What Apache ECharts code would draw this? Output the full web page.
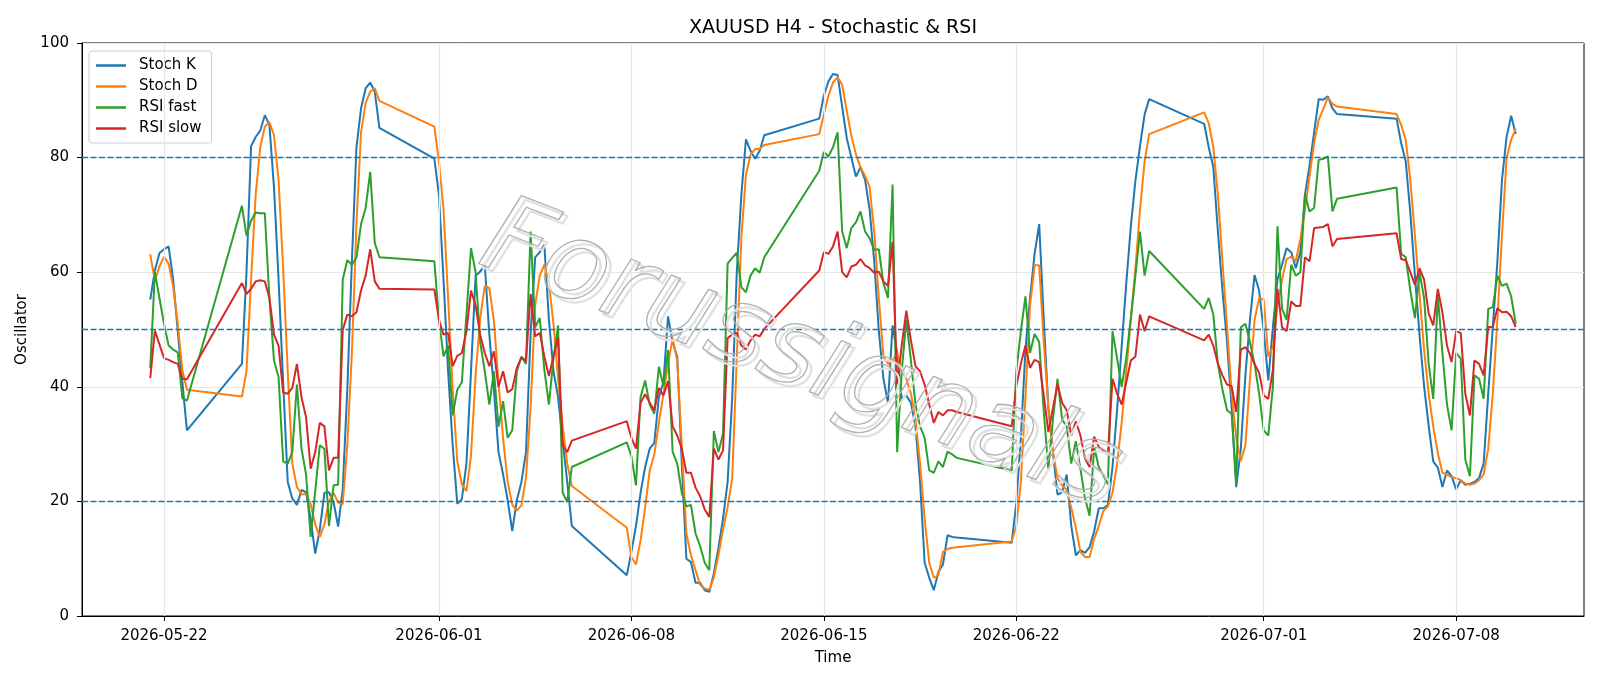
<!DOCTYPE html>
<html lang="en">
<head>
    <meta charset="UTF-8">
    <title>XAUUSD H4 - Stochastic & RSI</title>
    <script src="https://cdn.jsdelivr.net/npm/echarts@6/dist/echarts.min.js"></script>
    <style>
        html, body { margin: 0; padding: 0; background: #fff; }
        #main { width: 1600px; height: 686px; }
    </style>
</head>
<body>
<div id="main"></div>

<script type="text/javascript">
    // H4 bar sessions: [first bar, number of bars]
    var sessions = [
        ['2026-05-21 12:00', 9],
        ['2026-05-24 20:00', 31],
        ['2026-05-31 20:00', 31],
        ['2026-06-07 20:00', 31],
        ['2026-06-14 20:00', 31],
        ['2026-06-21 20:00', 31],
        ['2026-06-28 20:00', 30],
        ['2026-07-05 20:00', 27]
    ];

    var tickDates = ['2026-05-22', '2026-06-01', '2026-06-08', '2026-06-15', '2026-06-22', '2026-07-01', '2026-07-08'];
    var levels = [80, 50, 20];

    var stochK = [
        55.2, 60.3, 63.3, 64.0, 64.5, 58.7, 49.7, 40.8, 32.4,
        44.0, 60.0, 82.0, 83.6, 84.7, 87.4, 85.7, 74.8, 58.7, 40.8, 23.4, 20.5, 19.4, 22.0, 21.6, 17.0, 10.9, 15.1, 21.5, 21.6, 19.9, 15.6, 22.1, 39.5, 61.9, 81.8, 88.6, 92.1, 93.1, 91.5, 85.2,
        79.8, 73.5, 58.7, 42.7, 29.8, 19.6, 20.4, 26.6, 42.7, 59.4, 60.1, 61.3, 49.1, 39.5, 28.6, 24.7, 20.2, 14.8, 20.2, 23.4, 28.6, 49.1, 62.6, 63.5, 64.8, 51.7, 42.7, 38.2, 30.5, 23.4, 15.7,
        7.1, 11.2, 15.7, 21.5, 26.0, 29.2, 30.2, 38.2, 40.8, 52.3, 47.8, 45.3, 26.6, 10.0, 9.4, 5.8, 5.8, 4.5, 4.2, 7.4, 11.9, 17.0, 23.4, 38.0, 60.0, 73.5, 83.2, 81.2, 79.8, 81.2, 83.9,
        86.8, 90.8, 93.3, 94.6, 94.4, 88.9, 83.4, 80.0, 76.7, 78.3, 76.1, 70.9, 61.9, 49.7, 41.4, 37.2, 50.7, 45.9, 37.9, 38.5, 37.2, 33.1, 23.4, 9.3, 6.7, 4.5, 7.7, 9.0, 14.1, 13.8, 13.7,
        12.8, 19.6, 31.1, 46.5, 55.5, 63.2, 68.4, 51.7, 36.3, 28.6, 21.2, 21.6, 24.7, 15.7, 10.6, 11.5, 11.0, 12.0, 14.8, 18.8, 18.8, 19.4, 26.0, 36.0, 47.0, 58.0, 68.0, 76.0, 82.0, 87.5, 90.2,
        85.9, 81.8, 78.3, 67.1, 56.8, 47.8, 36.3, 22.5, 29.2, 42.0, 51.7, 59.5, 56.8, 49.7, 41.1, 50.4, 58.7, 61.3, 64.2, 63.5, 60.7, 63.5, 73.5, 78.6, 84.4, 90.2, 90.1, 90.7, 88.6, 87.6,
        86.8, 82.5, 79.3, 70.3, 59.4, 49.1, 40.1, 33.2, 27.0, 25.9, 22.5, 25.4, 24.4, 22.1, 23.7, 22.9, 23.1, 23.4, 24.1, 26.6, 38.8, 50.4, 61.9, 76.1, 83.6, 87.3, 84.1
    ];

    var stochD = [
        63.1, 58.5, 61.0, 62.7, 61.5, 57.5, 51.0, 43.0, 39.5,
        38.3, 42.7, 58.7, 73.5, 81.8, 85.4, 86.2, 83.9, 76.1, 60.7, 42.7, 26.6, 22.5, 21.2, 21.3, 19.5, 16.0, 13.8, 16.0, 20.0, 21.5, 19.8, 19.5, 29.8, 45.9, 68.4, 84.4, 89.5, 91.5, 92.1, 89.9,
        85.4, 79.3, 70.9, 55.5, 39.5, 27.0, 23.0, 21.8, 28.0, 42.0, 52.0, 57.6, 57.2, 51.5, 40.8, 31.0, 23.4, 19.4, 18.4, 19.3, 24.1, 36.3, 54.2, 59.4, 61.3, 58.1, 51.0, 41.4, 33.1, 26.6, 22.7,
        15.4, 10.3, 9.0, 13.2, 18.9, 25.4, 28.2, 33.7, 38.8, 44.0, 48.5, 44.6, 29.8, 14.4, 10.6, 8.0, 5.4, 4.8, 4.6, 6.7, 10.6, 15.1, 19.0, 24.0, 45.0, 66.0, 77.0, 80.5, 81.5, 81.5, 82.2,
        84.1, 87.5, 90.8, 93.1, 94.0, 92.7, 88.2, 83.8, 80.6, 78.3, 76.8, 74.8, 67.1, 55.5, 45.3, 44.0, 44.6, 45.9, 42.7, 41.4, 38.8, 34.3, 26.6, 17.0, 9.3, 6.7, 7.1, 11.2, 11.7, 11.9, 12.0,
        13.0, 15.7, 23.4, 38.2, 54.2, 61.2, 61.2, 47.8, 36.3, 28.6, 24.1, 22.8, 22.0, 18.9, 15.4, 11.2, 10.3, 10.3, 13.5, 15.7, 18.3, 19.1, 21.5, 26.6, 33.7, 42.7, 51.7, 60.7, 70.9, 79.3, 84.1,
        87.9, 86.0, 81.8, 73.5, 61.9, 50.4, 38.8, 31.1, 27.0, 29.8, 41.4, 51.7, 55.5, 55.2, 45.3, 46.9, 54.2, 58.7, 62.3, 62.7, 61.9, 65.8, 70.9, 76.7, 82.5, 86.6, 88.5, 90.5, 89.4, 88.9,
        87.6, 85.7, 83.1, 76.1, 66.4, 56.2, 46.5, 38.8, 33.1, 28.4, 25.0, 24.7, 24.2, 24.1, 23.7, 23.1, 22.9, 23.1, 23.7, 24.7, 29.2, 38.8, 51.7, 66.4, 79.9, 83.1, 85.0
    ];

    var rsiFast = [
        43.3, 60.0, 55.5, 51.0, 47.2, 46.5, 46.0, 38.0, 37.6,
        71.6, 66.4, 69.0, 70.4, 70.3, 70.3, 55.5, 44.6, 41.7, 27.0, 26.6, 28.6, 40.4, 29.2, 24.7, 13.8, 21.8, 29.8, 29.2, 15.7, 22.8, 22.9, 58.7, 62.1, 61.3, 62.6, 68.4, 71.2, 77.5, 65.1, 62.6,
        61.9, 51.7, 45.3, 47.2, 35.0, 39.5, 40.8, 52.6, 64.2, 60.0, 47.8, 42.7, 36.9, 42.7, 33.0, 37.5, 31.1, 32.4, 42.7, 45.3, 44.0, 67.1, 50.4, 52.0, 43.0, 36.9, 45.0, 50.7, 21.5, 19.9, 26.0,
        30.3, 27.9, 22.8, 38.2, 41.1, 36.9, 35.3, 43.5, 40.1, 46.4, 28.7, 26.6, 21.5, 19.1, 19.4, 14.4, 12.2, 9.3, 8.0, 32.3, 28.6, 31.8, 61.5, 62.5, 63.4, 57.4, 56.5, 59.4, 60.7, 59.9, 62.6,
        77.7, 81.0, 80.2, 81.8, 84.4, 67.1, 64.2, 67.7, 68.7, 70.6, 67.1, 65.9, 63.9, 64.0, 58.1, 55.5, 75.3, 28.6, 42.7, 51.7, 44.6, 36.9, 33.1, 31.1, 25.4, 25.0, 27.0, 26.0, 28.7, 28.2, 27.6,
        25.4, 42.7, 49.7, 55.8, 45.9, 49.2, 47.8, 35.6, 25.7, 34.3, 41.4, 34.3, 33.1, 26.6, 30.5, 25.7, 20.5, 17.5, 29.5, 26.0, 24.5, 23.0, 49.7, 45.0, 40.0, 45.0, 52.0, 59.4, 67.1, 59.4, 63.7,
        53.6, 55.5, 52.6, 44.0, 39.5, 35.9, 35.3, 23.1, 50.4, 51.0, 47.8, 44.0, 38.8, 32.4, 31.5, 40.0, 68.0, 53.6, 51.7, 61.3, 59.4, 60.0, 73.5, 70.6, 71.2, 79.6, 79.8, 80.2, 70.6, 72.8,
        74.8, 63.2, 62.6, 56.8, 52.0, 60.0, 55.5, 44.0, 37.9, 56.0, 45.9, 36.9, 32.4, 45.9, 44.9, 27.3, 24.4, 42.0, 41.4, 37.9, 53.6, 53.9, 59.4, 57.6, 58.0, 55.8, 51.0
    ];

    var rsiSlow = [
        41.5, 49.8, 47.4, 45.0, 44.7, 44.3, 44.0, 41.4, 41.3,
        58.1, 56.2, 57.1, 58.4, 58.6, 58.4, 55.5, 49.1, 47.2, 39.0, 38.8, 39.8, 44.0, 38.2, 34.7, 25.7, 28.6, 33.7, 33.1, 25.4, 27.6, 27.6, 49.9, 52.6, 52.3, 53.0, 56.8, 59.4, 64.0, 58.4, 57.1,
        57.0, 51.7, 49.1, 49.4, 43.6, 45.4, 45.9, 49.7, 56.8, 54.2, 49.1, 45.9, 43.6, 46.2, 40.0, 42.7, 39.0, 39.6, 43.3, 45.1, 44.6, 56.2, 48.8, 49.4, 45.3, 41.9, 45.3, 48.5, 29.8, 28.6, 30.6,
        34.0, 31.1, 29.2, 37.2, 38.7, 37.2, 35.9, 39.8, 38.5, 41.0, 33.1, 31.5, 29.2, 25.0, 25.0, 22.4, 20.9, 18.6, 17.3, 29.2, 27.3, 28.9, 48.5, 49.1, 49.4, 47.2, 46.5, 48.1, 49.1, 48.8, 50.1,
        60.3, 63.5, 63.2, 64.5, 67.1, 60.0, 59.1, 61.0, 61.3, 62.3, 61.2, 60.7, 59.9, 60.1, 58.4, 57.6, 65.3, 40.4, 47.2, 53.3, 48.1, 43.6, 42.7, 40.4, 36.9, 33.7, 35.6, 35.0, 35.9, 35.9, 35.6,
        33.1, 40.1, 44.0, 47.2, 43.3, 44.7, 44.3, 38.5, 32.1, 36.3, 40.4, 37.2, 35.9, 31.5, 34.0, 31.5, 27.5, 26.0, 31.3, 29.5, 28.9, 28.2, 41.4, 38.8, 36.9, 40.8, 44.6, 45.3, 52.6, 49.7, 52.3,
        48.1, 49.1, 47.2, 44.0, 42.0, 40.4, 40.1, 35.6, 46.5, 46.9, 45.9, 44.0, 42.4, 38.5, 37.9, 43.0, 57.1, 50.4, 49.7, 54.9, 54.1, 54.1, 62.6, 61.9, 67.7, 67.8, 67.9, 68.4, 64.5, 65.8,
        66.8, 62.3, 62.1, 60.0, 57.8, 60.7, 58.7, 52.8, 50.7, 57.1, 53.0, 47.2, 44.3, 49.7, 49.4, 38.8, 35.0, 44.6, 44.0, 42.0, 50.4, 50.5, 53.7, 53.0, 53.1, 52.3, 50.4
    ];

    // parse 'YYYY-MM-DD HH:MM' as UTC
    function ts(s) {
        var p = s.split(' ');
        var d = p[0].split('-').map(Number);
        var t = (p[1] || '00:00').split(':').map(Number);
        return Date.UTC(d[0], d[1] - 1, d[2], t[0], t[1]);
    }

    var H4 = 4 * 3600 * 1000;
    var times = [];
    sessions.forEach(function (s) {
        var t0 = ts(s[0]);
        for (var i = 0; i < s[1]; i++) times.push(t0 + i * H4);
    });

    function pairs(vals) {
        return vals.map(function (v, i) { return [times[i], v]; });
    }

    var tickTs = tickDates.map(ts);
    var span = times[times.length - 1] - times[0];
    var xMin = times[0] - 0.05 * span;
    var xMax = times[times.length - 1] + 0.05 * span;

    var FONT = 'DejaVu Sans';
    var myChart = echarts.init(document.getElementById('main'));

    var lineSeries = function (name, vals, color) {
        return {
            name: name, type: 'line', data: pairs(vals), showSymbol: false, symbol: 'none',
            lineStyle: { color: color, width: 2 }, itemStyle: { color: color }, z: 2
        };
    };

    // watermark text, drawn twice for the soft shadow
    var mark = function (dx, dy, color, width) {
        return {
            type: 'text', x: 800 + dx, y: 358 + dy, rotation: -0.37, z: 100, silent: true,
            style: {
                text: 'Forussignals', fontFamily: FONT, fontSize: 108, fontStyle: 'italic', fontWeight: 'lighter',
                fill: 'rgba(255,255,255,0)', stroke: color, lineWidth: width,
                align: 'center', verticalAlign: 'middle', textAlign: 'center', textVerticalAlign: 'middle'
            }
        };
    };

    var option = {
        animation: false,
        backgroundColor: '#fff',
        title: {
            text: 'XAUUSD H4 - Stochastic & RSI', left: 828, top: 14, textAlign: 'center',
            textStyle: { fontFamily: FONT, fontSize: 19, fontWeight: 'normal', color: '#000' }
        },
        legend: {
            data: ['Stoch K', 'Stoch D', 'RSI fast', 'RSI slow'],
            orient: 'vertical', left: 89, top: 51,
            padding: [6, 10, 6, 7], itemGap: 4, itemWidth: 30, itemHeight: 2.5, icon: 'rect',
            backgroundColor: 'rgba(255,255,255,0.8)', borderColor: '#cccccc', borderWidth: 1, borderRadius: 3,
            textStyle: { fontFamily: FONT, fontSize: 15, color: '#000', lineHeight: 17, padding: [0, 0, 0, 8] }
        },
        grid: { left: 82, right: 16, top: 43, bottom: 70, show: true, borderColor: '#000', borderWidth: 1, backgroundColor: 'transparent' },
        xAxis: {
            type: 'value', min: xMin, max: xMax,
            name: 'Time', nameLocation: 'middle', nameGap: 35,
            nameTextStyle: { fontFamily: FONT, fontSize: 15, color: '#000' },
            axisLine: { show: true, lineStyle: { color: '#000' } },
            axisTick: { show: true, length: 5, customValues: tickTs, lineStyle: { color: '#000' } },
            axisLabel: {
                customValues: tickTs, margin: 13, fontFamily: FONT, fontSize: 15, color: '#000',
                formatter: function (v) { return new Date(v).toISOString().slice(0, 10); }
            },
            splitLine: { show: false }
        },
        yAxis: {
            type: 'value', min: 0, max: 100, interval: 20,
            name: 'Oscillator', nameLocation: 'middle', nameGap: 48,
            nameTextStyle: { fontFamily: FONT, fontSize: 15, color: '#000' },
            axisLine: { show: true, lineStyle: { color: '#000' } },
            axisTick: { show: true, length: 5, lineStyle: { color: '#000' } },
            axisLabel: { margin: 13, fontFamily: FONT, fontSize: 15, color: '#000' },
            splitLine: { show: true, lineStyle: { color: '#e6e6e6', width: 1.2 } }
        },
        graphic: [mark(4, 4, '#e0e0e0', 2.2), mark(0, 0, '#b0b0b0', 1.3)],
        series: [
            {
                // vertical grid lines at the date ticks
                name: 'grid', type: 'line', data: pairs(stochK), symbol: 'none', silent: true,
                lineStyle: { opacity: 0 }, z: 1,
                markLine: {
                    silent: true, symbol: ['none', 'none'], label: { show: false },
                    lineStyle: { color: '#e6e6e6', width: 1.2, type: 'solid' },
                    data: tickTs.map(function (v) { return { xAxis: v }; })
                }
            },
            lineSeries('Stoch K', stochK, '#1f77b4'),
            lineSeries('Stoch D', stochD, '#ff7f0e'),
            lineSeries('RSI fast', rsiFast, '#2ca02c'),
            lineSeries('RSI slow', rsiSlow, '#d62728'),
            {
                // 80 / 50 / 20 reference levels
                name: 'levels', type: 'line', data: pairs(stochK), symbol: 'none', silent: true,
                lineStyle: { opacity: 0 }, z: 3,
                markLine: {
                    silent: true, symbol: ['none', 'none'], label: { show: false },
                    lineStyle: { color: '#1f77b4', width: 1.4, type: [6, 2.5] },
                    data: levels.map(function (v) { return { yAxis: v }; })
                }
            }
        ]
    };
    myChart.setOption(option);
</script>
</body>
</html>
